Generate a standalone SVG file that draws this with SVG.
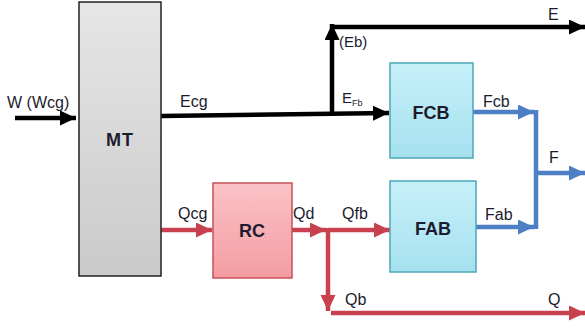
<svg xmlns="http://www.w3.org/2000/svg" width="585" height="329" viewBox="0 0 585 329">
<style>
  text { font-family: "Liberation Sans", Arial, sans-serif; fill: #1c1c2e; }
  .lbl { font-size: 16px; }
  .sm { font-size: 15px; }
  .box { font-size: 18px; font-weight: bold; text-anchor: middle; }
  .k { stroke: #000; stroke-width: 4.5; fill: none; }
  .r { stroke: #c8414f; stroke-width: 4.5; fill: none; }
  .b { stroke: #4d7fc4; stroke-width: 4.5; fill: none; }
</style>
<defs>
  <linearGradient id="gMT" x1="0" y1="0" x2="0" y2="1">
    <stop offset="0" stop-color="#e6e6e6"/><stop offset="1" stop-color="#cacaca"/>
  </linearGradient>
  <linearGradient id="gRC" x1="0" y1="0" x2="0" y2="1">
    <stop offset="0" stop-color="#fbc3c6"/><stop offset="1" stop-color="#f39ca2"/>
  </linearGradient>
  <linearGradient id="gF" x1="0" y1="0" x2="0" y2="1">
    <stop offset="0" stop-color="#c6f0f9"/><stop offset="1" stop-color="#a6e1ef"/>
  </linearGradient>
  <marker id="aK" markerUnits="userSpaceOnUse" markerWidth="18" markerHeight="16" refX="16" refY="7.5" orient="auto">
    <path d="M0,0 L16,7.5 L0,15 Z" fill="#000"/>
  </marker>
  <marker id="aR" markerUnits="userSpaceOnUse" markerWidth="18" markerHeight="16" refX="16" refY="7.5" orient="auto">
    <path d="M0,0 L16,7.5 L0,15 Z" fill="#c8414f"/>
  </marker>
  <marker id="aB" markerUnits="userSpaceOnUse" markerWidth="18" markerHeight="16" refX="16" refY="7.5" orient="auto">
    <path d="M0,0 L16,7.5 L0,15 Z" fill="#4d7fc4"/>
  </marker>
</defs>
<rect width="585" height="329" fill="#ffffff"/>

<g id="connectors">
  <line class="k" x1="15" y1="118" x2="76" y2="118" marker-end="url(#aK)"/>
  <line class="k" x1="161" y1="116" x2="389" y2="113" marker-end="url(#aK)"/>
  <line class="k" x1="332" y1="115" x2="332" y2="24" marker-end="url(#aK)"/>
  <line class="k" x1="330" y1="27" x2="585" y2="27" marker-end="url(#aK)"/>
  <line class="r" x1="161" y1="230" x2="212" y2="230" marker-end="url(#aR)"/>
  <line class="r" x1="292" y1="230" x2="326" y2="230" marker-end="url(#aR)"/>
  <line class="r" x1="328" y1="230" x2="390" y2="230" marker-end="url(#aR)"/>
  <line class="r" x1="328" y1="228" x2="328" y2="311" marker-end="url(#aR)"/>
  <line class="r" x1="331" y1="313" x2="585" y2="313" marker-end="url(#aR)"/>
  <line class="b" x1="473" y1="112" x2="534" y2="112" marker-end="url(#aB)"/>
  <line class="b" x1="476" y1="227" x2="534" y2="227" marker-end="url(#aB)"/>
  <line class="b" x1="536" y1="110" x2="536" y2="229"/>
  <line class="b" x1="536" y1="173" x2="585" y2="173" marker-end="url(#aB)"/>
</g>

<g id="MT">
  <rect x="79" y="2" width="82" height="274" fill="url(#gMT)" stroke="#222" stroke-width="1.5"/>
  <text class="box" x="120" y="146" letter-spacing="1">MT</text>
</g>
<g id="RC">
  <rect x="213" y="183" width="79" height="95" fill="url(#gRC)" stroke="#c8505a" stroke-width="1.5"/>
  <text class="box" x="252" y="237">RC</text>
</g>
<g id="FCB">
  <rect x="390" y="63" width="83" height="95" fill="url(#gF)" stroke="#4aa8b8" stroke-width="1.5"/>
  <text class="box" x="431" y="119">FCB</text>
</g>
<g id="FAB">
  <rect x="390" y="181" width="86" height="91" fill="url(#gF)" stroke="#4aa8b8" stroke-width="1.5"/>
  <text class="box" x="433" y="235">FAB</text>
</g>

<g id="labels">
  <text class="lbl" x="7" y="108">W (Wcg)</text>
  <text class="lbl" x="180" y="107">Ecg</text>
  <text class="lbl" x="548" y="20">E</text>
  <text class="sm" x="339" y="47">(Eb)</text>
  <text class="sm" x="342" y="103">E<tspan font-size="9" dy="3">Fb</tspan></text>
  <text class="lbl" x="483" y="107">Fcb</text>
  <text class="lbl" x="549" y="163">F</text>
  <text class="lbl" x="485" y="220">Fab</text>
  <text class="lbl" x="178" y="219">Qcg</text>
  <text class="lbl" x="293" y="219">Qd</text>
  <text class="lbl" x="342" y="219">Qfb</text>
  <text class="lbl" x="345" y="305">Qb</text>
  <text class="lbl" x="548" y="305">Q</text>
</g>
</svg>
